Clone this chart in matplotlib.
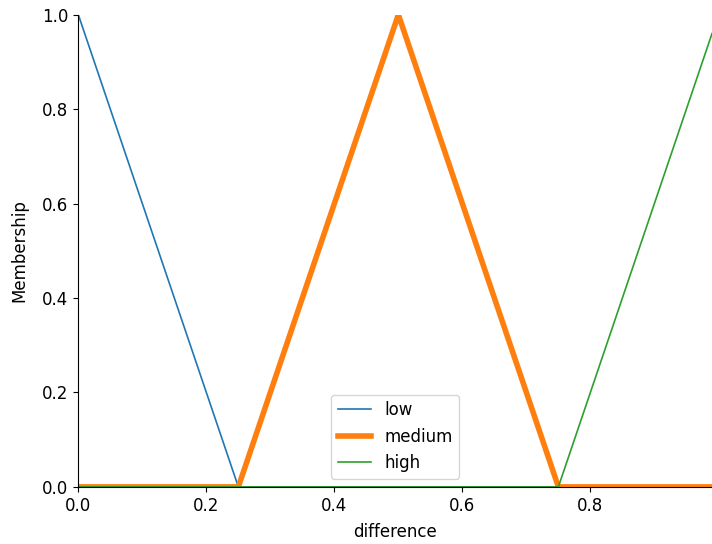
import numpy as np
import matplotlib
matplotlib.use("Agg")
import matplotlib.pyplot as plt

x = np.round(np.arange(0, 1, 0.01), 2)
labels = ["low", "medium", "high"]
params = [[0, 0, 0.25], [0.25, 0.5, 0.75], [0.75, 1, 1]]

def trimf(x, abc):
    a, b, c = abc
    y = np.zeros_like(x)
    if a != b:
        idx = (x > a) & (x < b)
        y[idx] = (x[idx] - a) / (b - a)
    if b != c:
        idx = (x > b) & (x < c)
        y[idx] = (c - x[idx]) / (c - b)
    y[x == b] = 1.0
    return y

fig, ax = plt.subplots(figsize=(7.12, 5.44), dpi=100)
widths = [1.2, 4, 1.2]
for lab, p, w in zip(labels, params, widths):
    ax.plot(x, trimf(x, p), label=lab, linewidth=w)

fs = 12
ax.set_xlim(x.min(), x.max())
ax.set_ylim(0, 1.0)
ax.set_xlabel("difference", fontsize=fs, labelpad=6)
ax.set_ylabel("Membership", fontsize=fs, labelpad=10)
ax.tick_params(labelsize=fs)
ax.spines["top"].set_visible(False)
ax.spines["right"].set_visible(False)
ax.legend(loc="lower center", fontsize=fs)
fig.subplots_adjust(left=0.11, right=1.0, top=0.973, bottom=0.105)
fig.savefig("out.png", dpi=100)
